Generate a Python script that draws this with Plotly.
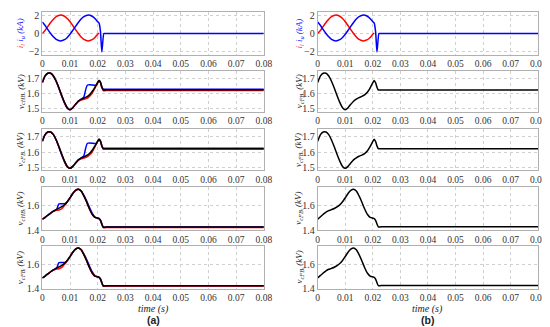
import plotly.graph_objects as go

# ---------------- data ----------------
t_i = [0, 0.001, 0.002, 0.003, 0.004, 0.005, 0.0066, 0.008, 0.009, 0.010, 0.011,
       0.012, 0.013, 0.014, 0.015, 0.0166, 0.018, 0.019, 0.020, 0.0205]
i_l = [0.0, 0.35, 0.81, 1.25, 1.63, 1.92, 2.10, 1.96, 1.70, 1.34, 0.90,
       0.44, 0.0, -0.39, -0.67, -0.85, -0.71, -0.45, -0.09, 0.05]
t_iu = [0, 0.001, 0.002, 0.003, 0.004, 0.005, 0.0066, 0.008, 0.009, 0.010, 0.011,
        0.012, 0.013, 0.014, 0.015, 0.0166, 0.018, 0.019, 0.020, 0.0205, 0.021,
        0.0215, 0.0222, 0.0225, 0.08]
i_u = [1.30, 0.90, 0.44, 0.0, -0.38, -0.67, -0.85, -0.71, -0.45, -0.09, 0.35,
       0.81, 1.25, 1.64, 1.92, 2.10, 1.96, 1.70, 1.34, 1.18, 0.2,
       -2.10, 0.0, 0.0, 0.0]

# upper arm capacitor voltages (kV)
t_u = [0, 0.001, 0.002, 0.003, 0.004, 0.005, 0.006, 0.007, 0.008, 0.009, 0.010,
       0.011, 0.012, 0.013, 0.014, 0.015, 0.016, 0.017, 0.018, 0.019, 0.020,
       0.0205, 0.021, 0.0215, 0.022, 0.023, 0.08]
vHBu_black = [1.672, 1.715, 1.733, 1.733, 1.715, 1.68, 1.635, 1.585, 1.54, 1.505, 1.492,
              1.505, 1.527, 1.548, 1.56, 1.568, 1.577, 1.59, 1.612, 1.64, 1.672,
              1.685, 1.672, 1.64, 1.623, 1.623, 1.623]
vHBu_red = [1.672, 1.715, 1.733, 1.733, 1.715, 1.68, 1.635, 1.585, 1.54, 1.505, 1.492,
            1.505, 1.527, 1.546, 1.555, 1.561, 1.566, 1.58, 1.60, 1.635, 1.670,
            1.685, 1.670, 1.638, 1.618, 1.618, 1.618]
t_ub = [0, 0.001, 0.002, 0.003, 0.004, 0.005, 0.006, 0.007, 0.008, 0.009, 0.010,
        0.011, 0.012, 0.013, 0.014, 0.0149, 0.0163, 0.0196, 0.0204, 0.021, 0.0215,
        0.022, 0.023, 0.08]
vHBu_blue = [1.672, 1.715, 1.733, 1.733, 1.715, 1.68, 1.632, 1.58, 1.535, 1.502, 1.492,
             1.505, 1.527, 1.548, 1.562, 1.572, 1.655, 1.655, 1.685, 1.672, 1.642,
             1.627, 1.627, 1.627]
vFBu_black = [1.672, 1.715, 1.733, 1.733, 1.715, 1.68, 1.635, 1.585, 1.54, 1.505, 1.492,
              1.505, 1.527, 1.548, 1.56, 1.568, 1.577, 1.59, 1.612, 1.64, 1.672,
              1.685, 1.672, 1.64, 1.622, 1.622, 1.622]
vFBu_red = [1.672, 1.715, 1.733, 1.733, 1.715, 1.68, 1.635, 1.585, 1.54, 1.505, 1.492,
            1.505, 1.527, 1.546, 1.555, 1.561, 1.566, 1.58, 1.60, 1.635, 1.670,
            1.685, 1.670, 1.638, 1.620, 1.620, 1.620]
vFBu_blue = [1.672, 1.715, 1.733, 1.733, 1.715, 1.68, 1.632, 1.58, 1.535, 1.502, 1.492,
             1.505, 1.527, 1.548, 1.562, 1.572, 1.658, 1.658, 1.685, 1.672, 1.642,
             1.625, 1.625, 1.625]

# lower arm capacitor voltages (kV)
t_l = [0, 0.001, 0.002, 0.003, 0.004, 0.005, 0.006, 0.007, 0.008, 0.009, 0.010,
       0.011, 0.012, 0.013, 0.014, 0.015, 0.016, 0.017, 0.018, 0.019, 0.020,
       0.0205, 0.021, 0.0215, 0.022, 0.023, 0.08]
vHBl_black = [1.49, 1.505, 1.522, 1.54, 1.555, 1.568, 1.58, 1.592, 1.608, 1.632, 1.665,
              1.70, 1.725, 1.735, 1.72, 1.68, 1.63, 1.575, 1.53, 1.505, 1.498,
              1.495, 1.48, 1.45, 1.425, 1.425, 1.425]
vHBl_red = [1.49, 1.505, 1.522, 1.54, 1.553, 1.562, 1.565, 1.575, 1.602, 1.632, 1.665,
            1.70, 1.725, 1.735, 1.72, 1.68, 1.63, 1.575, 1.53, 1.505, 1.498,
            1.495, 1.48, 1.45, 1.421, 1.421, 1.421]
t_lb = [0, 0.001, 0.002, 0.003, 0.004, 0.0052, 0.006, 0.0078, 0.0085, 0.009, 0.010,
        0.011, 0.012, 0.013, 0.014, 0.015, 0.016, 0.017, 0.018, 0.019, 0.020,
        0.0205, 0.021, 0.0215, 0.022, 0.023, 0.08]
vHBl_blue = [1.49, 1.505, 1.522, 1.54, 1.555, 1.572, 1.615, 1.615, 1.618, 1.632, 1.665,
             1.70, 1.725, 1.735, 1.722, 1.685, 1.64, 1.588, 1.54, 1.507, 1.498,
             1.495, 1.48, 1.45, 1.425, 1.425, 1.425]
vFBl_black = [1.49, 1.505, 1.522, 1.54, 1.555, 1.568, 1.58, 1.592, 1.608, 1.632, 1.665,
              1.70, 1.725, 1.735, 1.72, 1.68, 1.63, 1.575, 1.53, 1.505, 1.498,
              1.495, 1.48, 1.45, 1.425, 1.425, 1.425]
vFBl_red = [1.49, 1.505, 1.522, 1.54, 1.553, 1.562, 1.565, 1.575, 1.602, 1.632, 1.665,
            1.70, 1.725, 1.735, 1.72, 1.68, 1.63, 1.575, 1.53, 1.505, 1.498,
            1.495, 1.48, 1.45, 1.423, 1.423, 1.423]
vFBl_blue = [1.49, 1.505, 1.522, 1.54, 1.555, 1.572, 1.615, 1.615, 1.618, 1.632, 1.665,
             1.70, 1.725, 1.735, 1.722, 1.685, 1.64, 1.588, 1.54, 1.507, 1.498,
             1.495, 1.48, 1.45, 1.425, 1.425, 1.425]

# column (b): full-bridge only
vb_u = [1.672, 1.715, 1.733, 1.733, 1.715, 1.68, 1.635, 1.585, 1.54, 1.505, 1.492,
        1.505, 1.527, 1.548, 1.562, 1.572, 1.58, 1.59, 1.607, 1.635, 1.670,
        1.685, 1.670, 1.64, 1.622, 1.622, 1.622]
vb_l = [1.49, 1.51, 1.53, 1.548, 1.56, 1.568, 1.577, 1.59, 1.607, 1.632, 1.665,
        1.70, 1.725, 1.735, 1.72, 1.68, 1.63, 1.575, 1.53, 1.505, 1.498,
        1.495, 1.48, 1.45, 1.427, 1.427, 1.427]

x_ticks = [0, 0.01, 0.02, 0.03, 0.04, 0.05, 0.06, 0.07, 0.08]
x_ticklabels = ["0", "0.01", "0.02", "0.03", "0.04", "0.05", "0.06", "0.07", "0.08"]
y_ranges = [[-2.45, 2.45], [1.478, 1.75], [1.478, 1.75], [1.4, 1.752], [1.4, 1.752]]
y_ticks = [[-2, 0, 2], [1.5, 1.6, 1.7], [1.5, 1.6, 1.7], [1.4, 1.6], [1.4, 1.6]]
y_titles_a = ["<span style='color:#ff2020'>i<sub>l</sub></span> <span style='color:#2020ff'>i<sub>u</sub> (kA)</span>",
              "v<sub>cHBᵤ</sub> (kV)", "v<sub>cFBᵤ</sub> (kV)",
              "v<sub>cHBₗ</sub> (kV)", "v<sub>cFBₗ</sub> (kV)"]
y_titles_b = [y_titles_a[0],
              "v<sub>cFBᵤ</sub> (kV)", "v<sub>cFBᵤ</sub> (kV)",
              "v<sub>cFBₗ</sub> (kV)", "v<sub>cFBₗ</sub> (kV)"]
captions = ["(a)", "(b)"]
x_title = "time (s)"

# ---------------- layout geometry ----------------
W, H = 550, 327
col_px = [(33, 259), (314, 539)]
row_px = [(3, 47), (63, 105), (123, 165), (182, 226), (242, 286)]
RED, BLUE, BLACK = "#ff0000", "#0000ff", "#000000"
SERIF = "Liberation Serif"

fig = go.Figure()
layout = dict(width=W, height=H, margin=dict(l=0, r=0, t=0, b=0),
              paper_bgcolor="white", plot_bgcolor="white", showlegend=False,
              font=dict(family=SERIF, size=10, color="#333"))

annotations = []
for c in range(2):
    for r in range(5):
        k = c * 5 + r + 1
        xa = "xaxis" if k == 1 else f"xaxis{k}"
        ya = "yaxis" if k == 1 else f"yaxis{k}"
        xref = "x" if k == 1 else f"x{k}"
        yref = "y" if k == 1 else f"y{k}"
        x0, x1 = col_px[c]
        y0, y1 = row_px[r]
        layout[xa] = dict(domain=[x0 / W, x1 / W], anchor=yref, range=[0, 0.08],
                          tickvals=x_ticks, ticktext=x_ticklabels, showgrid=True,
                          gridcolor="#d0d0d0", griddash="dot", gridwidth=1,
                          showline=True, linecolor="#b0b0b0", linewidth=1, mirror=True,
                          zeroline=False, ticks="", tickfont=dict(size=9.5, family=SERIF, color="#333"))
        layout[ya] = dict(domain=[1 - y1 / H, 1 - y0 / H], anchor=xref, range=y_ranges[r],
                          tickvals=y_ticks[r], showgrid=True,
                          gridcolor="#d0d0d0", griddash="dot", gridwidth=1,
                          showline=True, linecolor="#b0b0b0", linewidth=1, mirror=True,
                          zeroline=False, ticks="", tickfont=dict(size=10, family=SERIF, color="#333"))
        title = (y_titles_a if c == 0 else y_titles_b)[r]
        annotations.append(dict(text=title, x=(11 if c == 0 else 295) / W,
                                y=1 - (y0 + y1) / 2 / H, xref="paper", yref="paper",
                                xanchor="center", yanchor="middle",
                                showarrow=False, textangle=-90,
                                font=dict(family=SERIF, size=9, color="#222", style="italic")))

def add(x, y, color, k, width=1.5):
    fig.add_trace(go.Scatter(x=x, y=y, mode="lines",
                             line=dict(color=color, width=width, shape="spline", smoothing=0.6),
                             xaxis="x" if k == 1 else f"x{k}",
                             yaxis="y" if k == 1 else f"y{k}"))

# column (a)
add(t_i, i_l, RED, 1)
add(t_iu, i_u, BLUE, 1)
add(t_ub, vHBu_blue, BLUE, 2); add(t_u, vHBu_red, RED, 2); add(t_u, vHBu_black, BLACK, 2)
add(t_ub, vFBu_blue, BLUE, 3); add(t_u, vFBu_red, RED, 3); add(t_u, vFBu_black, BLACK, 3)
add(t_lb, vHBl_blue, BLUE, 4); add(t_l, vHBl_red, RED, 4); add(t_l, vHBl_black, BLACK, 4)
add(t_lb, vFBl_blue, BLUE, 5); add(t_l, vFBl_red, RED, 5); add(t_l, vFBl_black, BLACK, 5)
# column (b)
add(t_i, i_l, RED, 6)
add(t_iu, i_u, BLUE, 6)
add(t_u, vb_u, BLACK, 7)
add(t_u, vb_u, BLACK, 8)
add(t_l, vb_l, BLACK, 9)
add(t_l, vb_l, BLACK, 10)

for c in range(2):
    xc = (col_px[c][0] + col_px[c][1]) / 2 / W
    annotations.append(dict(text=x_title, x=xc, y=1 - 306.5 / H, xref="paper", yref="paper",
                            xanchor="center", yanchor="middle",
                            showarrow=False, font=dict(family=SERIF, size=10, color="#222", style="italic")))
    annotations.append(dict(text="<b>" + captions[c] + "</b>", x=xc, y=1 - 318 / H, xref="paper", yref="paper",
                            xanchor="center", yanchor="middle",
                            showarrow=False, font=dict(family="Liberation Sans", size=10.5, color="#222")))

layout["annotations"] = annotations
fig.update_layout(**layout)
fig.write_html("out.html")
